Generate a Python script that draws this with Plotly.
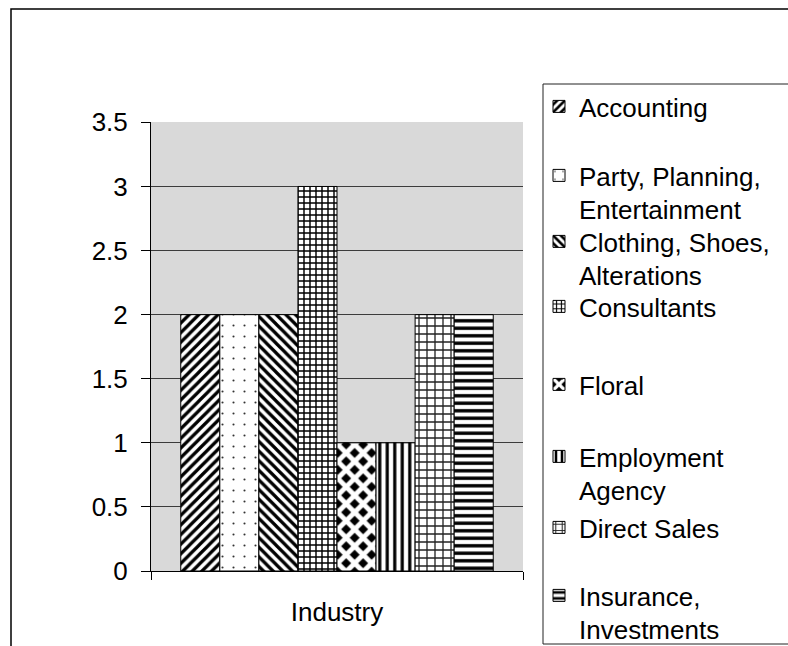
import plotly.graph_objects as go

# ---- data ----
category = ["Industry"]
series_names = [
    "Accounting",
    "Party, Planning,<br>Entertainment",
    "Clothing, Shoes,<br>Alterations",
    "Consultants",
    "Floral",
    "Employment<br>Agency",
    "Direct Sales",
    "Insurance,<br>Investments",
]
series_values = [2, 2, 2, 3, 1, 1, 2, 2]
y_tick_values = [0, 0.5, 1, 1.5, 2, 2.5, 3, 3.5]
y_tick_labels = ["0", "0.5", "1", "1.5", "2", "2.5", "3", "3.5"]

# ---- styling ----
FONT = "Liberation Sans, Arial, sans-serif"
W_PX, H_PX = 788, 646
L, R, T, B = 151, 265, 122, 75
PW, PH = W_PX - L - R, H_PX - T - B

def px_x(x):
    return (x - L) / PW

def px_y(y):
    return (H_PX - B - y) / PH

# monochrome fill patterns, one per series
patterns = [
    dict(shape="/", size=6.8, solidity=0.48, fgcolor="black", bgcolor="white"),
    dict(shape=".", size=11, solidity=0.03, fgcolor="#333", bgcolor="white"),
    dict(shape="\\", size=6.8, solidity=0.48, fgcolor="black", bgcolor="white"),
    dict(shape="+", size=6, solidity=0.42, fgcolor="black", bgcolor="white"),
    dict(shape="x", size=12, solidity=0.65, fgcolor="white", bgcolor="black"),
    dict(shape="|", size=7.5, solidity=0.42, fgcolor="black", bgcolor="white"),
    dict(shape="+", size=8, solidity=0.3, fgcolor="#222", bgcolor="white"),
    dict(shape="-", size=7.5, solidity=0.45, fgcolor="black", bgcolor="white"),
]

# vertical pixel position of each legend entry's first text line
legend_rows = [105, 174, 240, 305, 383, 455, 526, 594]

fig = go.Figure()
for i, (name, val, pat) in enumerate(zip(series_names, series_values, patterns)):
    fig.add_trace(go.Bar(
        x=category,
        y=[val],
        name=name,
        showlegend=True,
        legend="legend" if i == 0 else f"legend{i + 1}",
        marker=dict(
            color=pat["bgcolor"],
            pattern=dict(shape=pat["shape"], size=pat["size"], solidity=pat["solidity"],
                         fgcolor=pat["fgcolor"], bgcolor=pat["bgcolor"], fillmode="replace"),
            line=dict(color="black", width=1),
        ),
        hoverinfo="skip",
    ))

layout = dict(
    width=W_PX,
    height=H_PX,
    margin=dict(l=L, r=R, t=T, b=B, pad=0, autoexpand=False),
    paper_bgcolor="white",
    plot_bgcolor="#d9d9d9",
    font=dict(family=FONT, size=26, color="black"),
    showlegend=True,
    barmode="group",
    bargap=0.16,
    bargroupgap=0,
    xaxis=dict(
        type="category",
        automargin=False,
        showline=True, linecolor="black", linewidth=1,
        ticks="outside", tickson="boundaries", ticklen=8, tickcolor="black",
        showgrid=False,
        ticklabelstandoff=18,
        tickfont=dict(size=26),
    ),
    yaxis=dict(
        # tiny headroom so the 3.5 gridline is drawn along the top edge
        range=[0, 3.503],
        automargin=False,
        tickmode="array", tickvals=y_tick_values, ticktext=y_tick_labels,
        showline=True, linecolor="black", linewidth=1,
        ticks="outside", ticklen=9, tickcolor="black",
        showgrid=True, gridcolor="#3c3c3c", gridwidth=1,
        zeroline=False,
        ticklabelstandoff=8,
        tickfont=dict(size=26),
    ),
    shapes=[
        # outer chart frame
        dict(type="rect", xref="paper", yref="paper",
             x0=px_x(11), x1=px_x(800), y0=px_y(700), y1=px_y(9),
             line=dict(color="black", width=1.5), fillcolor="rgba(0,0,0,0)", layer="below"),
        # legend frame
        dict(type="rect", xref="paper", yref="paper",
             x0=px_x(543), x1=px_x(800), y0=px_y(644), y1=px_y(84),
             line=dict(color="#222", width=1), fillcolor="rgba(0,0,0,0)", layer="below"),
    ],
)

for i, row in enumerate(legend_rows):
    key = "legend" if i == 0 else f"legend{i + 1}"
    layout[key] = dict(
        x=px_x(539), xanchor="left",
        y=px_y(row - 22), yanchor="top",
        bgcolor="rgba(0,0,0,0)", borderwidth=0,
        font=dict(family=FONT, size=26, color="black"),
        valign="top",
        itemclick=False, itemdoubleclick=False,
    )

fig.update_layout(**layout)
fig.write_html("out.html")
